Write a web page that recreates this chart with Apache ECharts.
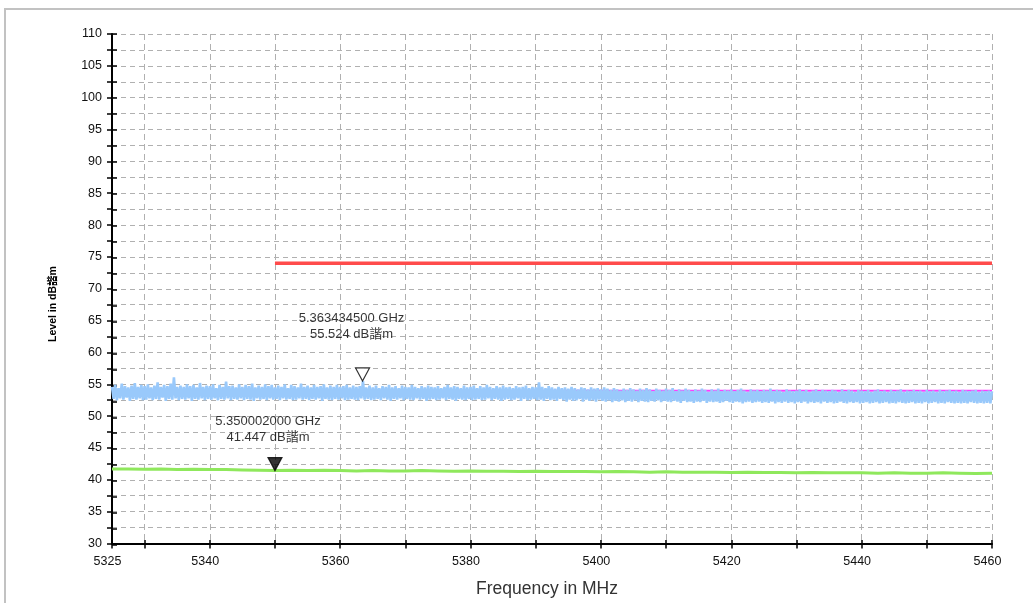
<!DOCTYPE html>
<html>
<head>
<meta charset="utf-8">
<style>
  html, body { margin: 0; padding: 0; background: #ffffff; }
  #chart { width: 1033px; height: 603px; }
</style>
<script src="https://cdn.jsdelivr.net/npm/echarts@6.0.0/dist/echarts.min.js"></script>
</head>
<body>
<div id="chart"></div>
<script>
// ---- axis ticks and labels ----
const xTickValues = [5325, 5330, 5340, 5350, 5360, 5370, 5380, 5390, 5400, 5410, 5420, 5430, 5440, 5450, 5460];
const xLabelValues = [5325, 5340, 5360, 5380, 5400, 5420, 5440, 5460];
const yMin = 30, yMax = 110, yTickStep = 2.5, yLabelStep = 5;
const levelUnit = 'dB諧m';

// ---- limit lines (MHz, dB) ----
const limitFreq = [5350, 5460];
const peakLimitLevel = [74, 74];
const avgLimitLevel = [54, 54];

// ---- peak trace: sweep points every 0.25 MHz from 5325 MHz ----
const traceStartMHz = 5325;
const traceStepMHz = 0.25;
const peakTrace = [
  54.6,52.7,54.9,52.5,54.4,52.8,55.1,52.6,54.7,52.9,54.5,52.4,54.8,52.7,55.2,52.6,54.6,52.8,54.9,52.5,
  54.7,52.6,55.0,52.8,54.5,52.5,54.8,52.7,55.3,52.6,54.6,52.9,54.9,52.4,54.7,52.7,55.1,52.6,56.1,52.8,
  54.6,52.5,54.8,52.7,54.6,52.6,55.0,52.8,54.7,52.4,54.9,52.7,54.5,52.6,55.2,52.8,54.6,52.5,54.8,52.7,
  54.7,52.6,55.0,52.8,54.4,52.5,54.9,52.7,54.6,52.6,55.4,52.8,54.7,52.5,54.8,52.7,54.5,52.6,55.0,52.8,
  54.6,52.5,54.9,52.7,54.7,52.6,55.1,52.4,54.5,52.8,54.8,52.6,54.6,52.7,55.0,52.5,54.7,52.8,54.9,52.6,
  54.5,52.7,54.8,52.5,54.6,52.8,55.0,52.6,54.4,52.7,54.9,52.5,54.7,52.6,54.5,52.8,55.1,52.6,54.6,52.7,
  54.8,52.5,54.5,52.7,54.9,52.6,54.6,52.8,54.7,52.4,55.0,52.7,54.5,52.6,54.8,52.5,54.6,52.7,54.9,52.6,
  54.6,52.8,54.7,52.5,54.9,52.6,54.5,52.7,54.8,52.6,54.6,52.5,54.7,52.8,55.5,52.6,54.5,52.7,54.8,52.5,
  54.5,52.6,54.8,52.7,54.4,52.5,54.7,52.8,54.6,52.6,54.9,52.4,54.5,52.7,54.7,52.6,54.4,52.8,54.8,52.5,
  54.6,52.7,54.5,52.6,54.9,52.5,54.6,52.8,54.4,52.6,54.7,52.7,54.5,52.4,54.8,52.6,54.6,52.7,54.5,52.5,
  54.7,52.6,54.4,52.8,54.6,52.5,54.9,52.7,54.5,52.6,54.7,52.4,54.6,52.7,54.4,52.6,54.8,52.5,54.5,52.7,
  54.6,52.5,54.8,52.6,54.4,52.7,54.7,52.5,54.5,52.6,54.9,52.8,54.6,52.5,54.4,52.7,54.7,52.6,54.5,52.4,
  54.8,52.6,54.5,52.7,54.6,52.5,54.4,52.6,54.7,52.8,54.5,52.4,54.6,52.7,54.8,52.5,54.4,52.6,54.6,52.7,
  54.5,52.5,55.3,52.6,54.6,52.4,54.4,52.7,54.7,52.5,54.5,52.6,54.3,52.4,54.6,52.7,54.4,52.5,54.5,52.3,
  54.3,52.6,54.6,52.4,54.4,52.5,54.2,52.7,54.5,52.3,54.4,52.6,54.2,52.4,54.5,52.5,54.3,52.3,54.4,52.6,
  54.2,52.4,54.5,52.3,54.3,52.5,54.1,52.2,54.4,52.4,54.2,52.3,54.0,52.5,54.3,52.2,54.1,52.4,54.4,52.3,
  54.2,52.5,54.0,52.2,54.3,52.4,54.1,52.3,54.4,52.2,54.2,52.4,53.9,52.3,54.3,52.5,54.1,52.2,54.0,52.4,
  54.3,52.3,54.1,52.2,54.4,52.4,53.9,52.3,54.2,52.1,54.0,52.4,54.3,52.2,54.1,52.3,53.9,52.1,54.2,52.3,
  54.0,52.2,54.3,52.4,54.1,52.1,53.8,52.3,54.2,52.2,54.0,52.3,54.3,52.1,53.9,52.2,54.1,52.4,54.0,52.2,
  54.2,52.1,53.9,52.3,54.1,52.2,54.3,52.0,54.0,52.2,53.8,52.3,54.2,52.1,54.0,52.2,54.1,52.3,53.9,52.1,
  54.1,52.2,54.0,52.1,54.3,52.3,53.9,52.0,54.1,52.2,54.0,52.1,53.8,52.3,54.2,52.1,54.0,52.2,53.9,52.0,
  54.0,52.2,54.2,52.1,53.9,52.3,54.1,52.0,53.8,52.2,54.0,52.1,54.2,52.2,53.9,52.0,54.1,52.3,54.0,52.1,
  53.9,52.2,54.1,52.0,54.0,52.1,53.8,52.3,54.2,52.1,53.9,52.0,54.1,52.2,54.0,52.1,53.8,52.2,54.1,52.0,
  54.0,52.1,53.9,52.2,54.1,52.0,53.8,52.1,54.0,52.2,54.2,52.0,53.9,52.1,54.0,52.2,53.8,52.0,54.1,52.1,
  53.9,52.0,54.0,52.2,54.2,52.1,53.8,52.0,54.0,52.1,53.9,52.2,54.1,52.0,53.9,52.1,54.0,52.0,53.8,52.2,
  54.1,52.0,53.9,52.1,54.0,52.2,53.8,52.0,54.1,52.1,53.9,52.0,54.0,52.2,54.1,52.1,53.9,52.0,54.0,52.1,
  53.8,52.0,54.1,52.1,54.0,52.0,53.9,52.2,54.0,52.1,54.1,52.0,53.8,52.1,54.0,52.0,53.9,52.1,54.0,52.0,
  53.9
];

// ---- average trace, every 2.5 MHz ----
const avgTraceFreq = [
  5325, 5327.5, 5330, 5332.5, 5335, 5337.5, 5340, 5342.5, 5345, 5347.5,
  5350, 5352.5, 5355, 5357.5, 5360, 5362.5, 5365, 5367.5, 5370, 5372.5,
  5375, 5377.5, 5380, 5382.5, 5385, 5387.5, 5390, 5392.5, 5395, 5397.5,
  5400, 5402.5, 5405, 5407.5, 5410, 5412.5, 5415, 5417.5, 5420, 5422.5,
  5425, 5427.5, 5430, 5432.5, 5435, 5437.5, 5440, 5442.5, 5445, 5447.5,
  5450, 5452.5, 5455, 5457.5, 5460
];
const avgTrace = [
  41.7, 41.7, 41.65, 41.7, 41.6, 41.65, 41.6, 41.6, 41.55, 41.5,
  41.45, 41.5, 41.45, 41.5, 41.45, 41.4, 41.45, 41.4, 41.4, 41.45,
  41.4, 41.35, 41.4, 41.35, 41.35, 41.3, 41.35, 41.3, 41.3, 41.3,
  41.25, 41.3, 41.25, 41.2, 41.25, 41.2, 41.2, 41.2, 41.15, 41.2,
  41.15, 41.15, 41.1, 41.15, 41.1, 41.1, 41.1, 41.05, 41.1, 41.05,
  41.05, 41.1, 41.05, 41.0, 41.05
];

// ---- markers ----
const markerFreqGHz = [5.350002, 5.3634345];
const markerLevel = [41.447, 55.524];

const FONT = '"Liberation Sans", Arial, "Noto Sans CJK SC", sans-serif';
const triangleDown = 'path://M0,0 L14,0 L7,13 Z';

const pairs = (xs, ys) => xs.map((x, i) => [x, ys[i]]);
const peakData = peakTrace.map((v, i) => [traceStartMHz + i * traceStepMHz, v]);

// marker glyph and label placement per marker
const markerStyles = [
  { fill: '#000000', labelOffset: [-7, -35] },
  { fill: '#ffffff', labelOffset: [-11, -48] }
];
const markerData = markerFreqGHz.map((f, i) => ({
  value: [f * 1000, markerLevel[i]],
  itemStyle: { color: markerStyles[i].fill, borderColor: '#000000', borderWidth: 1.2 },
  label: {
    show: true,
    position: 'inside',
    offset: markerStyles[i].labelOffset,
    color: '#000000',
    fontFamily: FONT, fontSize: 13, lineHeight: 16, align: 'center',
    formatter: f.toFixed(9) + ' GHz\n' + markerLevel[i].toFixed(3) + ' ' + levelUnit
  }
}));

const gridRect = { left: 112, right: 41, top: 34, bottom: 58 };
const tickLine = { show: true, lineStyle: { color: '#000', width: 1.5 } };

const chart = echarts.init(document.getElementById('chart'), null, { renderer: 'canvas' });
chart.setOption({
  animation: false,
  backgroundColor: '#ffffff',
  grid: [
    Object.assign({ containLabel: false }, gridRect),
    Object.assign({ containLabel: false }, gridRect)
  ],
  xAxis: [
    {
      type: 'value', gridIndex: 0, min: 5325, max: 5460,
      axisLine: { show: true, lineStyle: { color: '#000', width: 2 } },
      axisTick: Object.assign({ length: 5, inside: false, customValues: xTickValues }, tickLine),
      axisLabel: {
        customValues: xLabelValues, margin: 12, color: '#111',
        fontFamily: FONT, fontSize: 12.5, padding: [0, 9, 0, 0],
        formatter: v => String(v)
      },
      splitLine: { show: true, lineStyle: { color: '#b0b0b0', width: 1, type: [6, 4] } },
      name: 'Frequency in MHz', nameLocation: 'middle', nameGap: 37,
      nameTextStyle: { color: '#333', fontFamily: FONT, fontSize: 17.5, padding: [0, 10, 0, 0] }
    },
    {
      type: 'value', gridIndex: 1, min: 5325, max: 5460,
      axisLine: { show: false },
      axisTick: Object.assign({ length: 5, inside: true, customValues: xTickValues }, tickLine),
      axisLabel: { show: false },
      splitLine: { show: false }
    }
  ],
  yAxis: [
    {
      type: 'value', gridIndex: 0, min: yMin, max: yMax, interval: yTickStep,
      axisLine: { show: true, lineStyle: { color: '#000', width: 2 } },
      axisTick: Object.assign({ length: 5, inside: false }, tickLine),
      axisLabel: {
        margin: 10, color: '#111', fontFamily: FONT, fontSize: 12.5,
        formatter: v => (v % yLabelStep === 0 ? String(v) : '')
      },
      splitLine: { show: true, lineStyle: { color: '#b0b0b0', width: 1, type: [5, 4] } }
    },
    {
      type: 'value', gridIndex: 1, min: yMin, max: yMax, interval: yTickStep,
      axisLine: { show: false },
      axisTick: Object.assign({ length: 5, inside: true }, tickLine),
      axisLabel: { show: false },
      splitLine: { show: false }
    }
  ],
  graphic: [
    {
      type: 'rect', silent: true, z: -10,
      shape: { x: 5, y: 9, width: 1200, height: 800 },
      style: { fill: 'none', stroke: '#c2c2c2', lineWidth: 2 }
    },
    {
      type: 'text', x: 53, y: 304, rotation: Math.PI / 2,
      style: {
        text: 'Level in ' + levelUnit,
        font: 'bold 10.5px ' + FONT,
        fill: '#000',
        align: 'center', verticalAlign: 'middle',
        textAlign: 'center', textVerticalAlign: 'middle'
      }
    }
  ],
  series: [
    {
      name: 'Peak limit', type: 'line', xAxisIndex: 0, yAxisIndex: 0,
      data: pairs(limitFreq, peakLimitLevel), showSymbol: false,
      lineStyle: { color: '#ff4b4b', width: 3.5 }, z: 2
    },
    {
      name: 'Average', type: 'line', xAxisIndex: 0, yAxisIndex: 0,
      data: pairs(avgTraceFreq, avgTrace), showSymbol: false,
      lineStyle: { color: '#8fe85c', width: 3 }, z: 2
    },
    {
      name: 'Average limit', type: 'line', xAxisIndex: 0, yAxisIndex: 0,
      data: pairs(limitFreq, avgLimitLevel), showSymbol: false,
      lineStyle: { color: '#ff3cff', width: 2 }, z: 2
    },
    {
      name: 'Peak', type: 'line', xAxisIndex: 0, yAxisIndex: 0,
      data: peakData, showSymbol: false, sampling: null,
      lineStyle: { color: '#99c9fb', width: 2.6 }, z: 3
    },
    {
      name: 'Markers', type: 'scatter', xAxisIndex: 0, yAxisIndex: 0,
      symbol: triangleDown, symbolSize: [14, 13], symbolOffset: [0, '-50%'],
      data: markerData, z: 5
    }
  ]
});
</script>
</body>
</html>
